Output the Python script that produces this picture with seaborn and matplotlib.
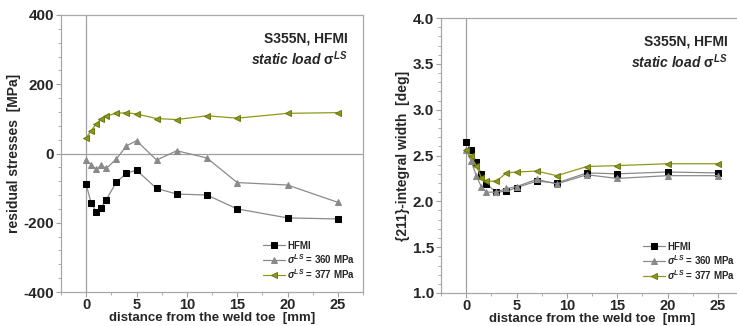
import numpy as np
import pandas as pd
import matplotlib
matplotlib.use("Agg")
import matplotlib.pyplot as plt
from matplotlib.ticker import MultipleLocator, AutoMinorLocator, FormatStrFormatter
import seaborn as sns

# measurement positions [mm]
distance = [0, 0.5, 1, 1.5, 2, 3, 4, 5, 7, 9, 12, 15, 20, 25]

# residual stresses [MPa]
rs_hfmi = [-89, -144, -168, -156, -133, -83, -57, -48, -101, -117, -120, -160, -186, -189]
rs_360 = [-19, -32, -46, -34, -43, -16, 22, 37, -19, 8, -13, -84, -91, -141]
rs_377 = [45, 66, 86, 99, 109, 116, 118, 114, 101, 98, 109, 102, 116, 118]

# {211} integral width [deg]
iw_hfmi = [2.65, 2.56, 2.43, 2.30, 2.19, 2.10, 2.11, 2.15, 2.22, 2.20, 2.31, 2.30, 2.32, 2.31]
iw_360 = [2.56, 2.44, 2.28, 2.16, 2.10, 2.10, 2.14, 2.16, 2.24, 2.19, 2.29, 2.25, 2.28, 2.28]
iw_377 = [2.56, 2.49, 2.39, 2.26, 2.22, 2.22, 2.31, 2.32, 2.33, 2.28, 2.38, 2.39, 2.41, 2.41]

labels = ["HFMI", r"$\sigma^{LS}$ = 360 MPa", r"$\sigma^{LS}$ = 377 MPa"]

sns.set_theme(style="white")
plt.rcParams["font.family"] = ["Liberation Sans", "DejaVu Sans"]
plt.rcParams["font.weight"] = "bold"
plt.rcParams["mathtext.fontset"] = "custom"
plt.rcParams["mathtext.rm"] = "Liberation Sans:bold"
plt.rcParams["mathtext.it"] = "Liberation Sans:bold:italic"
plt.rcParams["mathtext.bf"] = "Liberation Sans:bold"

GREY = "#8a8a8a"
OLIVE = "#8c9a1c"
styles = [
    dict(color=GREY, marker="s", markerfacecolor="black", markeredgecolor="black", markersize=4.2),
    dict(color=GREY, marker="^", markerfacecolor=GREY, markeredgecolor=GREY, markersize=4.8),
    dict(color=OLIVE, marker="<", markerfacecolor=OLIVE, markeredgecolor="#6f7a10", markersize=4.8),
]

fig = plt.figure(figsize=(7.37, 3.26), dpi=100)
ax1 = fig.add_axes([61 / 737, 34 / 326, 302 / 737, 277 / 326])
ax2 = fig.add_axes([441 / 737, 33 / 326, 302 / 737, 275 / 326])


def draw(ax, series, ylim, ymajor, yfmt, ylabel, zero_line):
    for vals, lab, st in zip(series, labels, styles):
        df = pd.DataFrame({"x": distance, "y": vals})
        sns.lineplot(data=df, x="x", y="y", ax=ax, label=lab, linewidth=0.9,
                     estimator=None, sort=False, **st)
    ax.set_xlim(-2.5, 27.5)
    ax.set_ylim(*ylim)
    ax.xaxis.set_major_locator(MultipleLocator(5))
    ax.xaxis.set_minor_locator(MultipleLocator(2.5))
    ax.yaxis.set_major_locator(MultipleLocator(ymajor))
    ax.yaxis.set_minor_locator(AutoMinorLocator(5))
    ax.yaxis.set_major_formatter(FormatStrFormatter(yfmt))
    ax.axvline(0, color="#a0a0a0", lw=0.9, zorder=0)
    if zero_line:
        ax.axhline(0, color="#a0a0a0", lw=0.9, zorder=0)
    for s in ax.spines.values():
        s.set_color("#a8a8a8")
        s.set_linewidth(0.9)
    ax.tick_params(axis="both", which="major", direction="out", length=3.5, width=0.8,
                   color="#a0a0a0", labelsize=11, pad=1.5, bottom=True, left=True)
    ax.tick_params(axis="x", which="major", labelsize=10.5, pad=1)
    ax.tick_params(axis="both", which="minor", direction="out", length=2, width=0.6,
                   color="#a0a0a0", bottom=True, left=True)
    ax.set_xlabel("distance from the weld toe  [mm]", fontsize=9.5, fontweight="bold", labelpad=-0.5)
    ax.set_ylabel(ylabel, fontsize=10, fontweight="bold", labelpad=2)
    ax.text(0.95, 0.94, "S355N, HFMI", transform=ax.transAxes, ha="right", va="top",
            fontsize=10, fontweight="bold")
    ax.text(0.95, 0.875, r"static load $\mathrm{\sigma}^{LS}$", transform=ax.transAxes,
            ha="right", va="top", fontsize=10, fontweight="bold", style="italic")
    leg = ax.legend(loc="lower right", bbox_to_anchor=(0.995, 0.02), frameon=False,
                    fontsize=7, handlelength=2.2, handletextpad=0.3, labelspacing=0.12,
                    borderaxespad=0.2)
    for t in leg.get_texts():
        t.set_fontweight("bold")


draw(ax1, [rs_hfmi, rs_360, rs_377], (-400, 400), 200, "%d", "residual stresses  [MPa]", True)
draw(ax2, [iw_hfmi, iw_360, iw_377], (1.0, 4.0), 0.5, "%.1f", "{211}-integral width  [deg]", False)

for ax in (ax1, ax2):
    for t in ax.get_xticklabels() + ax.get_yticklabels():
        t.set_fontweight("bold")

fig.savefig("out.png", dpi=100)
